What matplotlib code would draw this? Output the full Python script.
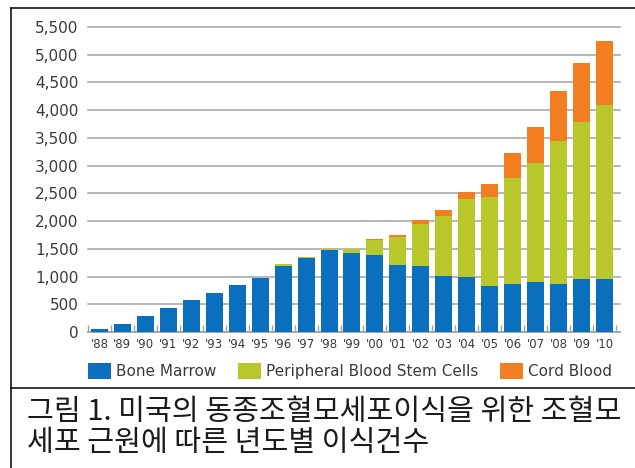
import matplotlib
matplotlib.use("Agg")
import matplotlib.pyplot as plt
from matplotlib.lines import Line2D
from matplotlib.patches import Patch
import numpy as np

# Allogeneic transplants in the US by stem-cell source, 1988-2010
years = ["'88", "'89", "'90", "'91", "'92", "'93", "'94", "'95", "'96", "'97", "'98",
         "'99", "'00", "'01", "'02", "'03", "'04", "'05", "'06", "'07", "'08", "'09", "'10"]
bone_marrow = [50, 140, 290, 430, 577, 703, 842, 974, 1190, 1329, 1473,
               1430, 1395, 1208, 1185, 1004, 986, 824, 871, 896, 871, 950, 950]
pbsc = [0, 0, 0, 0, 0, 0, 0, 0, 30, 30, 15,
        65, 264, 499, 757, 1088, 1418, 1611, 1912, 2157, 2568, 2832, 3138]
cord_blood = [0, 0, 0, 0, 0, 0, 0, 0, 0, 0, 0,
              0, 10, 48, 72, 114, 121, 228, 445, 638, 907, 1064, 1154]
y_ticks = [0, 500, 1000, 1500, 2000, 2500, 3000, 3500, 4000, 4500, 5000, 5500]
series_names = ["Bone Marrow", "Peripheral Blood Stem Cells", "Cord Blood"]
series_colors = ["#0a6fbd", "#b8c82a", "#f37e22"]
caption = ["그림 1. 미국의 동종조혈모세포이식을 위한 조혈모",
           "세포 근원에 따른 년도별 이식건수"]

W, H = 635, 468
fig = plt.figure(figsize=(W / 100, H / 100), dpi=100)
fig.patch.set_facecolor("white")

ax = fig.add_axes([88 / W, (H - 332) / H, 532 / W, 305 / H])
x = np.arange(len(years))
bm = np.array(bone_marrow)
pb = np.array(pbsc)
cb = np.array(cord_blood)
bw = 0.74
ax.bar(x, bm, width=bw, color=series_colors[0], zorder=3)
ax.bar(x, pb, width=bw, bottom=bm, color=series_colors[1], zorder=3)
ax.bar(x, cb, width=bw, bottom=bm + pb, color=series_colors[2], zorder=3)

ax.set_xlim(-0.5, len(years) - 1 + 0.675)
ax.set_ylim(0, 5500)
ax.set_yticks(y_ticks)
ax.set_yticklabels([f"{v:,}" for v in y_ticks])
ax.yaxis.grid(True, color="#a3a3a3", linewidth=1.1, zorder=0)
ax.set_axisbelow(True)
for gl in ax.get_ygridlines():
    gl.set_clip_on(False)

ax.set_xticks(x)
ax.set_xticklabels(years)
ax.set_xticks(np.arange(-0.5, len(years)), minor=True)
ax.tick_params(axis="x", which="major", length=0, pad=4, labelsize=8.5, labelcolor="#3a3a3a")
ax.tick_params(axis="x", which="minor", direction="in", length=5, width=1.0, color="#a3a3a3")
ax.tick_params(axis="y", length=0, pad=7, labelsize=11, labelcolor="#3a3a3a")

for side in ("top", "right", "left"):
    ax.spines[side].set_visible(False)
ax.spines["bottom"].set_color("#a3a3a3")
ax.spines["bottom"].set_linewidth(1.1)

handles = [Patch(facecolor=c, edgecolor="none") for c in series_colors]
fig.legend(handles, series_names, loc="center left",
           bbox_to_anchor=(88 / W, (H - 371) / H), ncol=3, frameon=False,
           fontsize=11, handlelength=1.5, handleheight=1.3, handletextpad=0.3,
           columnspacing=1.45, borderpad=0, borderaxespad=0,
           labelcolor="#3a3a3a")

# Page frame and caption separator
lw = 1.1
fig.add_artist(Line2D([10.5 / W, 1.0], [(H - 8) / H] * 2, color="black", lw=lw))
fig.add_artist(Line2D([10.5 / W] * 2, [0, (H - 8) / H], color="black", lw=lw))
fig.add_artist(Line2D([10.5 / W, 1.0], [(H - 388) / H] * 2, color="black", lw=lw))

for i, line in enumerate(caption):
    fig.text(27 / W, (H - (412 + 31 * i)) / H, line, ha="left", va="center",
             fontsize=21, color="#1a1a1a", weight="light",
             family=["Noto Sans CJK KR", "DejaVu Sans"])

fig.savefig("out.png", dpi=100)
